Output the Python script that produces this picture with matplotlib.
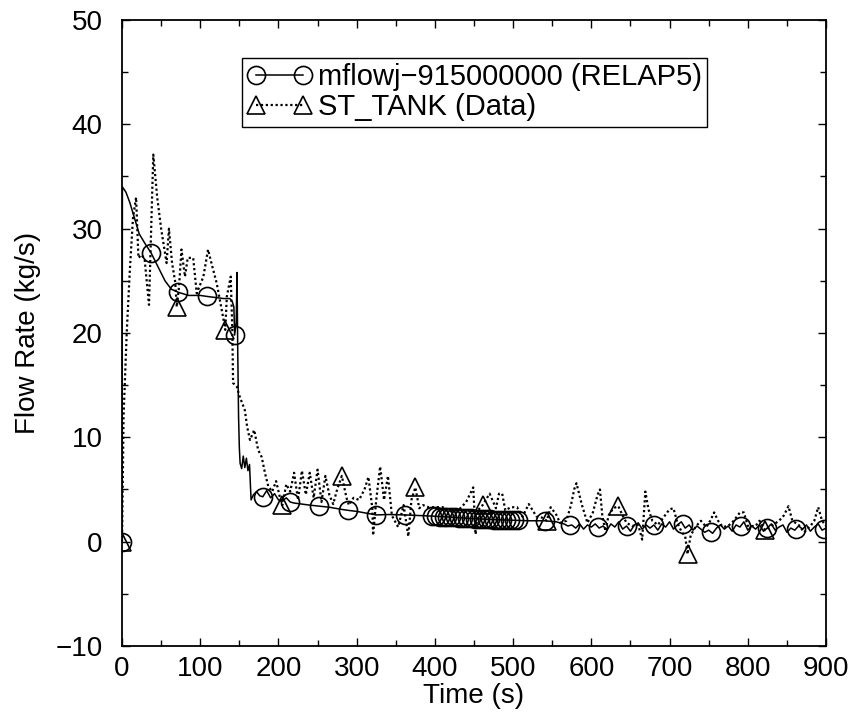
import numpy as np
import matplotlib
matplotlib.use("Agg")
import matplotlib.pyplot as plt
from matplotlib.lines import Line2D
from matplotlib.ticker import MultipleLocator

plt.rcParams['font.family'] = ['Liberation Sans', 'DejaVu Sans']

# RELAP5 calculation, mflowj-915000000
relap_t = [0, 0.5, 5, 10, 16, 22, 30, 37, 45, 55, 63, 72, 85, 100, 109, 120, 130, 138,
           141, 143, 144, 146, 147, 148, 149, 150, 151, 153, 155, 157, 159, 161, 163, 165,
           168, 172, 176, 180, 185, 190, 195, 200, 205, 210, 215, 220, 230, 240, 252, 265,
           280, 289, 300, 315, 325, 340, 362, 380, 396, 420, 450, 480, 500, 520, 541, 555,
           560, 565, 570, 575, 580, 585, 590, 595, 600, 605, 610, 615, 620, 625, 630, 635,
           640, 645, 650, 655, 660, 665, 670, 675, 680, 685, 690, 695, 700, 705, 710, 715,
           720, 725, 730, 735, 740, 745, 750, 755, 760, 765, 770, 775, 780, 785, 790, 795,
           800, 805, 810, 815, 820, 825, 830, 835, 840, 845, 850, 855, 860, 865, 870, 875,
           880, 885, 890, 895, 900]
relap_v = [0, 34, 33.5, 32.5, 31, 29.5, 28.5, 27.7, 26.5, 25, 24.2, 23.9, 23.6, 23.6, 23.5,
           23.4, 23.3, 23.3, 23.0, 22.5, 19.8, 21, 25.8, 18, 12, 9, 7.5, 7.0, 8.2, 7.1, 8.0,
           6.8, 7.4, 4.0, 4.5, 4.8, 4.4, 4.3, 4.9, 4.2, 4.6, 4.0, 3.9, 4.2, 3.8, 3.7, 3.6,
           3.5, 3.4, 3.3, 3.1, 3.0, 2.9, 2.7, 2.56, 2.6, 2.56, 2.5, 2.45, 2.35, 2.2, 2.1,
           2.05, 2.0, 2.0, 1.9,
           1.8, 1.7, 1.5, 1.6, 1.3, 1.7, 1.2, 1.6, 1.4, 1.7, 1.3, 1.5, 1.1, 1.7, 1.4, 1.9,
           1.2, 1.5, 1.0, 1.6, 1.8, 1.2, 1.6, 1.3, 1.6, 1.1, 1.7, 1.4, 1.9, 1.2, 1.6, 1.9,
           1.3, 1.6, 1.1, 1.5, 1.2, 0.9, 1.1, 0.8, 1.3, 1.6, 1.2, 1.5, 1.0, 1.6, 1.4, 1.9,
           1.1, 1.5, 1.2, 1.6, 1.0, 1.3, 1.7, 1.1, 1.4, 1.6, 0.9, 1.3, 1.1, 1.5, 1.2, 1.6,
           1.0, 1.4, 1.7, 1.1, 1.3]
relap_mark_t = [0, 37, 72, 109, 144, 180, 215, 252, 289, 325, 362, 396, 401, 406, 411, 416,
                421, 426, 431, 436, 441, 446, 451, 456, 461, 466, 471, 476, 481, 486, 491,
                496, 501, 506, 541, 573, 609, 645, 680, 717, 753, 791, 825, 861, 897]

# ST_TANK measured data
data_t = [0, 2, 6, 10, 14, 18, 21, 25, 29, 34.5, 40, 45, 50, 57, 60, 64, 68, 70, 73, 76,
          80.5, 84, 91, 95.5, 104, 110, 115, 121, 129.5, 132, 134, 139, 141, 142, 146.6,
          150, 157, 160, 163.6, 169, 174, 178.6, 183, 187, 192, 197, 202, 205, 210, 215,
          220, 225, 230, 235, 240, 245, 250, 255, 260, 265, 270, 275, 281, 287, 290, 296,
          303, 310, 315, 320, 321, 325, 330, 335, 340, 345, 353, 360, 366, 370, 375, 380,
          385, 392, 400, 410, 420, 430, 440, 449, 452, 455, 461, 470, 478, 482, 486, 490,
          497, 505, 512, 520, 530, 537, 543, 548, 555, 560, 568, 574, 578, 581, 588, 595,
          602, 608, 611, 614, 618, 622, 628, 634.5, 640, 645, 652, 660, 665, 669, 673, 678,
          685, 692, 700, 705, 710, 715, 720, 723, 727, 733, 740, 747, 752, 757, 762, 768,
          775, 782, 790, 795, 800, 810, 815, 822, 830, 840, 846, 852, 857, 865, 872, 880,
          885, 890, 895, 900]
data_v = [0, 12, 20, 26, 31, 33, 27.2, 27.5, 27, 22.7, 37.1, 33, 30, 26.7, 30, 26.7, 24.9,
          22.5, 24.5, 28, 25.4, 27.2, 27.2, 23.8, 25.4, 28, 26.5, 24.8, 21.4, 20.3, 23.5,
          25.4, 20.3, 15.2, 14.9, 14, 12.6, 11, 9.75, 10.7, 8.8, 8.1, 6.5, 5.3, 4.8, 5.8,
          4.2, 3.5, 5.5, 4.8, 6.6, 4.0, 6.8, 4.5, 6.6, 4.2, 6.9, 3.8, 6.3, 4.5, 3.6, 5.0,
          6.3, 4.2, 3.5, 4.2, 4.0, 5.0, 6.2, 3.2, 0.6, 4.0, 7.2, 4.0, 6.3, 2.5, 1.4, 3.5,
          0.5, 4.0, 5.2, 3.2, 3.5, 3.3, 3.3, 3.3, 2.9, 3.0, 3.8, 5.2, 0.7, 3.0, 3.5, 4.6,
          3.2, 4.6, 4.6, 3.0, 3.3, 3.3, 2.4, 3.6, 2.4, 2.3, 2.0, 3.3, 2.6, 1.8, 2.0, 3.5,
          5.0, 5.6, 3.5, 1.8, 2.8, 4.5, 5.0, 2.5, 1.0, 2.5, 3.2, 3.4, 2.5, 1.8, 1.5, 1.6,
          0.2, 4.8, 3.1, 2.0, 1.6, 2.3, 3.1, 3.2, 1.8, 1.0, 0.5, -1.2, 0.6, 1.4, 2.0, 1.4,
          2.0, 2.8, 2.0, 1.4, 1.5, 2.0, 2.8, 2.8, 1.5, 1.5, 2.0, 1.1, 1.5, 2.0, 2.5, 3.4,
          2.0, 1.6, 0.9, 1.5, 2.0, 3.3, 2.0, 1.5]
data_mark_t = [0, 70, 132, 205, 281, 375, 461, 543, 634.5, 723, 822]

fig = plt.figure(figsize=(8.52, 7.22), dpi=100)
ax = fig.add_axes([0.1432, 0.1053, 0.8263, 0.867])

ax.plot(relap_t, relap_v, color="black", lw=1.1)
ax.plot(relap_mark_t, np.interp(relap_mark_t, relap_t, relap_v), ls="none", marker="o",
        ms=13, mfc="none", mec="black", mew=1.2)
ax.plot(data_t, data_v, color="black", lw=1.6, ls=(0, (1, 1.2)))
ax.plot(data_mark_t, np.interp(data_mark_t, data_t, data_v), ls="none", marker="^",
        ms=13, mfc="none", mec="black", mew=1.2)

ax.set_xlim(0, 900)
ax.set_ylim(-10, 50)
ax.xaxis.set_major_locator(MultipleLocator(100))
ax.xaxis.set_minor_locator(MultipleLocator(50))
ax.yaxis.set_major_locator(MultipleLocator(10))
ax.yaxis.set_minor_locator(MultipleLocator(5))
ax.tick_params(which="both", direction="in", top=True, right=True, labelsize=20)
ax.tick_params(which="major", length=6, width=1)
ax.tick_params(which="minor", length=4, width=1)
ax.tick_params(axis="y", which="major", pad=14)
ax.tick_params(axis="x", which="major", pad=7)
for s in ax.spines.values():
    s.set_linewidth(1.3)

ax.set_xlabel("Time (s)", fontsize=20, labelpad=1)
ax.set_ylabel("Flow Rate (kg/s)", fontsize=20, labelpad=10)

handles = [
    Line2D([], [], color="black", lw=1.1, marker="o", ms=13, mfc="none", mew=1.2),
    Line2D([], [], color="black", lw=1.6, ls=(0, (1, 1.2)), marker="^", ms=13, mfc="none", mew=1.2),
]
labels = ["mflowj\u2212915000000 (RELAP5)", "ST_TANK (Data)"]
ax.legend(handles, labels, loc="upper left", bbox_to_anchor=(0.17, 0.94), borderaxespad=0,
          numpoints=2, fontsize=21, frameon=True, fancybox=False, edgecolor="black",
          framealpha=1, handlelength=2.2, handletextpad=0.2, borderpad=0.2, labelspacing=0.05)

fig.savefig("out.png", dpi=100)
